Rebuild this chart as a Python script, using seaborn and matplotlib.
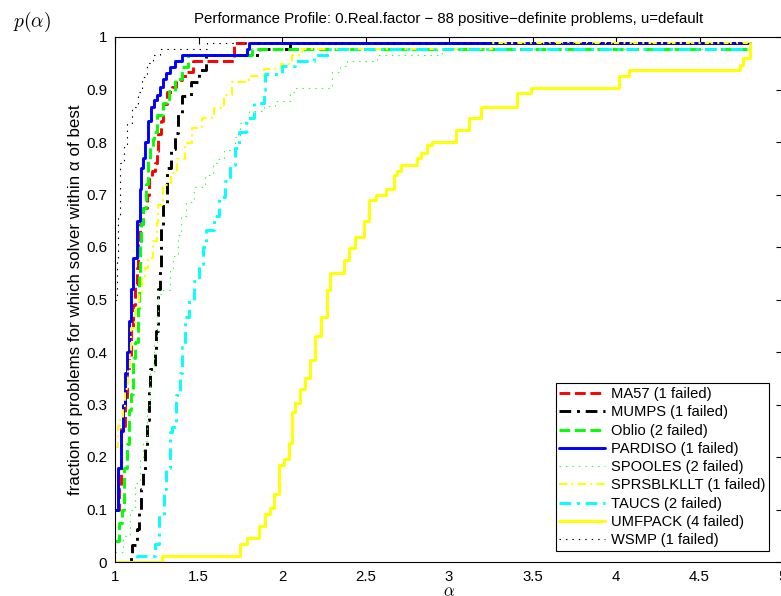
import matplotlib
matplotlib.use("Agg")
import matplotlib.pyplot as plt
import seaborn as sns

# ── data (alpha, fraction of 88 problems) ──
solvers = ['MA57', 'MUMPS', 'Oblio', 'PARDISO', 'SPOOLES',
           'SPRSBLKLLT', 'TAUCS', 'UMFPACK', 'WSMP']
failed = [1, 1, 2, 1, 2, 1, 2, 4, 1]

alpha_ma57 = [1.0, 1.024, 1.036, 1.06, 1.072, 1.084, 1.096, 1.108, 1.12, 1.13,
              1.14, 1.15, 1.168, 1.19, 1.205, 1.22, 1.24, 1.25, 1.26, 1.275,
              1.29, 1.31, 1.34, 1.366, 1.40, 1.43, 1.47, 1.71, 4.80]
p_ma57 = [0.10, 0.14, 0.26, 0.31, 0.36, 0.39, 0.446, 0.49, 0.53, 0.56,
          0.61, 0.644, 0.674, 0.70, 0.73, 0.745, 0.76, 0.783, 0.815, 0.84,
          0.872, 0.895, 0.905, 0.918, 0.925, 0.933, 0.955, 0.9886, 0.9886]

alpha_mumps = [1.0, 1.096, 1.10, 1.13, 1.144, 1.156, 1.168, 1.18, 1.19, 1.204,
               1.21, 1.24, 1.246, 1.258, 1.27, 1.276, 1.288, 1.31, 1.335, 1.36,
               1.378, 1.40, 1.455, 1.50, 1.545, 1.87, 2.05, 4.80]
p_mumps = [0.0, 0.011, 0.032, 0.063, 0.097, 0.139, 0.173, 0.215, 0.27, 0.33,
           0.368, 0.398, 0.44, 0.52, 0.558, 0.636, 0.678, 0.75, 0.787, 0.817,
           0.853, 0.888, 0.914, 0.937, 0.966, 0.977, 0.9886, 0.9886]

alpha_oblio = [1.0, 1.024, 1.042, 1.054, 1.072, 1.084, 1.096, 1.108, 1.12, 1.138,
               1.145, 1.15, 1.156, 1.17, 1.186, 1.20, 1.21, 1.228, 1.234, 1.25,
               1.29, 1.324, 1.36, 1.40, 1.44, 1.82, 4.80]
p_oblio = [0.04, 0.074, 0.10, 0.18, 0.225, 0.29, 0.32, 0.389, 0.419, 0.484,
           0.547, 0.607, 0.644, 0.674, 0.72, 0.764, 0.79, 0.805, 0.82, 0.851,
           0.874, 0.897, 0.92, 0.943, 0.966, 0.977, 0.977]

alpha_pardiso = [1.0, 1.02, 1.036, 1.048, 1.06, 1.072, 1.084, 1.096, 1.11, 1.13,
                 1.15, 1.158, 1.168, 1.178, 1.20, 1.215, 1.235, 1.25, 1.268, 1.288,
                 1.308, 1.328, 1.358, 1.40, 1.79, 1.80, 4.80]
p_pardiso = [0.10, 0.18, 0.25, 0.30, 0.36, 0.40, 0.46, 0.52, 0.58, 0.65,
             0.71, 0.75, 0.77, 0.80, 0.84, 0.867, 0.88, 0.89, 0.905, 0.92,
             0.932, 0.943, 0.955, 0.966, 0.977, 0.9886, 0.9886]

alpha_spooles = [1.0, 1.05, 1.09, 1.12, 1.15, 1.17, 1.19, 1.21, 1.235, 1.25,
                 1.26, 1.29, 1.33, 1.35, 1.38, 1.395, 1.426, 1.474, 1.54, 1.588,
                 1.61, 1.65, 1.72, 1.75, 1.80, 1.89, 1.96, 2.05, 2.08, 2.30,
                 2.35, 2.39, 2.57, 2.96, 4.80]
p_spooles = [0.02, 0.05, 0.10, 0.15, 0.20, 0.23, 0.30, 0.36, 0.42, 0.47,
             0.51, 0.518, 0.56, 0.583, 0.623, 0.66, 0.686, 0.714, 0.737, 0.76,
             0.768, 0.785, 0.81, 0.836, 0.859, 0.869, 0.878, 0.895, 0.903, 0.933,
             0.945, 0.955, 0.966, 0.977, 0.977]

alpha_sprs = [1.0, 1.018, 1.03, 1.048, 1.06, 1.078, 1.09, 1.096, 1.12, 1.144,
              1.16, 1.18, 1.198, 1.23, 1.25, 1.26, 1.29, 1.335, 1.37, 1.42,
              1.46, 1.52, 1.59, 1.65, 1.70, 1.80, 1.89, 1.995, 2.06, 2.12,
              3.26, 4.80]
p_sprs = [0.22, 0.26, 0.27, 0.297, 0.33, 0.367, 0.40, 0.446, 0.486, 0.512,
          0.54, 0.56, 0.579, 0.611, 0.646, 0.68, 0.718, 0.741, 0.767, 0.798,
          0.826, 0.846, 0.865, 0.89, 0.914, 0.926, 0.939, 0.948, 0.966, 0.977,
          0.9886, 0.9886]

alpha_taucs = [1.0, 1.13, 1.24, 1.264, 1.294, 1.306, 1.33, 1.34, 1.366, 1.39,
               1.40, 1.42, 1.444, 1.474, 1.50, 1.528, 1.545, 1.59, 1.62, 1.66,
               1.69, 1.72, 1.74, 1.785, 1.83, 1.89, 1.90, 2.0, 2.08, 2.19,
               2.29, 4.80]
p_taucs = [0.0, 0.011, 0.034, 0.086, 0.14, 0.18, 0.248, 0.257, 0.318, 0.36,
           0.41, 0.467, 0.50, 0.535, 0.568, 0.60, 0.632, 0.66, 0.695, 0.726,
           0.756, 0.789, 0.82, 0.846, 0.874, 0.899, 0.93, 0.945, 0.955, 0.966,
           0.977, 0.977]

alpha_umf = [1.0, 1.28, 1.75, 1.79, 1.86, 1.90, 1.93, 1.95, 1.98, 2.01,
             2.04, 2.06, 2.08, 2.11, 2.14, 2.17, 2.20, 2.235, 2.27, 2.29,
             2.37, 2.40, 2.44, 2.49, 2.52, 2.56, 2.62, 2.67, 2.69, 2.71,
             2.81, 2.83, 2.87, 2.90, 3.04, 3.12, 3.19, 3.41, 3.49, 4.02,
             4.08, 4.74, 4.76, 4.80]
p_umf = [0.0, 0.011, 0.034, 0.045, 0.068, 0.091, 0.102, 0.13, 0.185, 0.196,
         0.226, 0.286, 0.302, 0.33, 0.35, 0.385, 0.43, 0.467, 0.518, 0.55,
         0.575, 0.598, 0.62, 0.65, 0.69, 0.70, 0.71, 0.737, 0.745, 0.756,
         0.77, 0.78, 0.794, 0.80, 0.823, 0.846, 0.867, 0.893, 0.903, 0.926,
         0.937, 0.947, 0.96, 0.9886]

alpha_wsmp = [1.0, 1.01, 1.02, 1.03, 1.054, 1.07, 1.10, 1.14, 1.16, 1.19,
              1.23, 1.27, 1.55, 4.80]
p_wsmp = [0.50, 0.58, 0.66, 0.76, 0.794, 0.836, 0.867, 0.895, 0.924, 0.95,
          0.966, 0.977, 0.9886, 0.9886]

alphas = [alpha_ma57, alpha_mumps, alpha_oblio, alpha_pardiso, alpha_spooles,
          alpha_sprs, alpha_taucs, alpha_umf, alpha_wsmp]
profiles = [p_ma57, p_mumps, p_oblio, p_pardiso, p_spooles,
            p_sprs, p_taucs, p_umf, p_wsmp]

xticks = [1, 1.5, 2, 2.5, 3, 3.5, 4, 4.5, 5]
xtick_labels = ['1', '1.5', '2', '2.5', '3', '3.5', '4', '4.5', '5']
yticks = [0, 0.1, 0.2, 0.3, 0.4, 0.5, 0.6, 0.7, 0.8, 0.9, 1]
ytick_labels = ['0', '0.1', '0.2', '0.3', '0.4', '0.5', '0.6', '0.7', '0.8', '0.9', '1']

# ── styles (matlab-ish) ──
colors = ['#FF0000', '#000000', '#00FF00', '#0000FF', '#33FF33',
          '#FFFF00', '#00FFFF', '#FFFF00', '#000000']
dashdot = (0, (4.0, 2.0, 1.0, 2.0))
dotted = (0, (1.3, 4.5))
styles = ['--', dashdot, '--', '-', dotted, dashdot, dashdot, '-', dotted]
widths = [2.1, 2.1, 2.1, 2.1, 0.8, 1.5, 2.1, 2.1, 0.8]

sns.set_theme(style='white')
plt.rcParams.update({
    'font.family': ['Liberation Sans', 'DejaVu Sans'],
    'mathtext.fontset': 'cm',
    'axes.edgecolor': 'black', 'axes.linewidth': 0.8,
    'xtick.color': 'black', 'ytick.color': 'black',
    'text.color': 'black', 'axes.labelcolor': 'black',
})

fig = plt.figure(figsize=(7.81, 5.96), dpi=100)
ax = fig.add_axes([115/781, 34/596, 668/781, 525/596])

for name, nf, a, p, c, ls, lw in zip(solvers, failed, alphas, profiles,
                                     colors, styles, widths):
    sns.lineplot(x=a, y=p, ax=ax, color=c, linestyle=ls, linewidth=lw,
                 drawstyle='steps-post', estimator=None, sort=False,
                 label=f'{name} ({nf} failed)')

ax.set_xlim(1, 5)
ax.set_ylim(0, 1)
ax.set_xticks(xticks)
ax.set_xticklabels(xtick_labels)
ax.set_yticks(yticks)
ax.set_yticklabels(ytick_labels)
ax.tick_params(direction='in', length=5, width=0.8, top=True, right=True,
               labelsize=10.8, pad=5.5)
for s in ax.spines.values():
    s.set_visible(True)
    s.set_color('black')

ax.set_title('Performance Profile: 0.Real.factor \u2212 88 positive\u2212definite '
             'problems, u=default', fontsize=10.8, pad=10)
ax.set_ylabel('fraction of problems for which solver within \u03b1 of best',
              fontsize=12.2)
ax.yaxis.set_label_coords(-0.048, 0.5)
ax.set_xlabel(r'$\alpha$', fontsize=12)
ax.xaxis.set_label_coords(0.5, -0.043)
fig.text(32/781, 1 - 22/596, r'$p(\alpha)$', fontsize=14, ha='center', va='center')

leg = ax.legend(loc='lower right', bbox_to_anchor=(0.979, 0.021),
                borderaxespad=0, fontsize=10.6, frameon=True, fancybox=False,
                framealpha=1, edgecolor='black', handlelength=3.1,
                handletextpad=0.4, labelspacing=0.29, borderpad=0.25)
leg.get_frame().set_linewidth(0.8)

fig.savefig('out.png', dpi=100)
